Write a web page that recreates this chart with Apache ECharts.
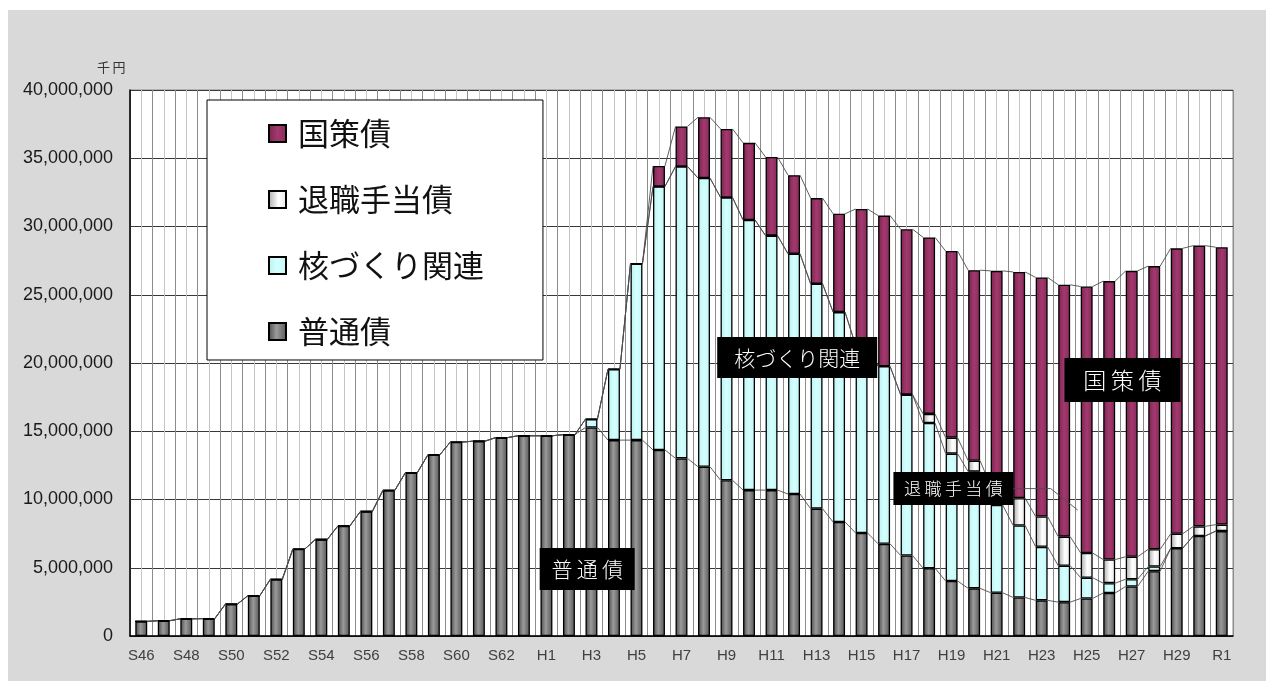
<!DOCTYPE html>
<html>
<head>
<meta charset="utf-8">
<script src="https://cdn.jsdelivr.net/npm/echarts@6/dist/echarts.min.js"></script>
<style>
html,body{margin:0;padding:0;background:#fff;width:1266px;height:681px;overflow:hidden;}
#c{position:absolute;left:8px;top:10px;width:1258px;height:671px;background:#d9d9d9;}
</style>
</head>
<body>
<div id="c"></div>
<script>
// ---- data (千円) ----
const categories = ['S46','S47','S48','S49','S50','S51','S52','S53','S54','S55','S56','S57','S58','S59','S60','S61','S62','S63',
  'H1','H2','H3','H4','H5','H6','H7','H8','H9','H10','H11','H12','H13','H14','H15','H16','H17','H18','H19','H20',
  'H21','H22','H23','H24','H25','H26','H27','H28','H29','H30','R1'];

const futsu = [1070000,1120000,1260000,1270000,2330000,2950000,4150000,6370000,7070000,8060000,
  9120000,10670000,11970000,13280000,14210000,14270000,14530000,14670000,14670000,14750000,
  15280000,14350000,14350000,13630000,13010000,12400000,11410000,10690000,10690000,10400000,
  9330000,8350000,7550000,6750000,5900000,4960000,4030000,3490000,3170000,2820000,
  2610000,2480000,2750000,3150000,3630000,4750000,6430000,7330000,7680000];

const kaku = [0,0,0,0,0,0,0,0,0,0,
  0,0,0,0,0,0,0,0,0,0,
  610000,5200000,12930000,19300000,21390000,21150000,20720000,19790000,18640000,17600000,
  16480000,15380000,13750000,13010000,11780000,10640000,9330000,8550000,6430000,5280000,
  3920000,2670000,1520000,720000,530000,340000,0,0,0];

const taishoku = [0,0,0,0,0,0,0,0,0,0,
  0,0,0,0,0,0,0,0,0,0,
  0,0,0,0,0,0,0,0,0,0,
  0,0,0,0,0,670000,1170000,800000,1400000,2000000,
  2220000,2130000,1810000,1730000,1650000,1260000,1060000,700000,480000];

const kokusaku = [0,0,0,0,0,0,0,0,0,0,
  0,0,0,0,0,0,0,0,0,0,
  0,0,0,1500000,2930000,4450000,5020000,5650000,5760000,5760000,
  6270000,7200000,9980000,11040000,12120000,12930000,13670000,13960000,15750000,16570000,
  17520000,18450000,19520000,20400000,20940000,20750000,20910000,20570000,20320000];

const seriesNames = ['普通債','核づくり関連','退職手当債','国策債'];
const legendOrder = ['国策債','退職手当債','核づくり関連','普通債'];
const yMax = 40000000, yStep = 5000000;

// annotation labels: [text, category position, value]
const notes = [
  ['普\u2009通\u2009債', 19.81, 4910000],
  ['核づくり関連', 29.14, 20400000],
  ['退\u2009職\u2009手\u2009当\u2009債', 36.08, 10800000],
  ['国\u2009策\u2009債', 43.59, 18750000]
];
const noteSizes = [[95,42,21],[160,41,21],[120,33,17],[116,44,23]];
const leader = [[36.08, 10800000],[40.4, 10800000],[41.6, 9230000]];

// ---- build ----
const BAR_RATIO = 0.53;
const n = categories.length;
const stacks = [futsu, kaku, taishoku, kokusaku];
const cum = [];
let run = new Array(n).fill(0);
stacks.forEach(s => { run = run.map((v,i)=>v+s[i]); cum.push(run.slice()); });

const CJK = "'Noto Sans CJK JP','Noto Sans CJK SC',sans-serif";

function grad(stops){
  return new echarts.graphic.LinearGradient(0,0,1,0, stops.map((c,i)=>({offset:c[0],color:c[1]})));
}
const styles = [
  {color: grad([[0,'#4a4a4a'],[0.45,'#9a9a9a'],[1,'#555555']]), borderColor:'#000', borderWidth:1.3},
  {color: grad([[0,'#b8f2f2'],[0.5,'#d6ffff'],[1,'#bff6f6']]), borderColor:'#000', borderWidth:1.3},
  {color: grad([[0,'#a8a8a8'],[0.55,'#ffffff'],[1,'#e8e8e8']]), borderColor:'#000', borderWidth:1.3},
  {color: grad([[0,'#7a2450'],[0.5,'#a3396e'],[1,'#862a5a']]), borderColor:'#000', borderWidth:1.3}
];

const chart = echarts.init(document.getElementById('c'));
const barSeries = stacks.map((s,k)=>({
  name: seriesNames[k], type:'bar', stack:'total', data:s,
  barWidth: (BAR_RATIO*100)+'%', itemStyle: styles[k], z:3,
  emphasis:{disabled:true}
}));

const lineSeries = {
  type:'custom', name:'lines', xAxisIndex:0, yAxisIndex:0, z:4, silent:true,
  data: categories.slice(0, n-1).map((c,i)=>[i, 0]),
  renderItem: function(params, api){
    const i = api.value(0);
    const half = api.size([1,0])[0]*BAR_RATIO/2;
    const children = cum.map(c => {
      const p1 = api.coord([i, c[i]]);
      const p2 = api.coord([i+1, c[i+1]]);
      return {type:'line', shape:{x1:p1[0]+half, y1:p1[1], x2:p2[0]-half, y2:p2[1]},
        style:{stroke:'#4d4d4d', lineWidth:0.9}};
    });
    return {type:'group', children};
  }
};

chart.setOption({
  animation:false,
  grid:{left:122, top:80, right:33, bottom:45, show:true, backgroundColor:'#fff', borderColor:'#8a8a8a', borderWidth:1},
  legend:{
    data: legendOrder, orient:'vertical', left:199, top:90,
    backgroundColor:'#fff', borderColor:'#000', borderWidth:1,
    padding:[18,59,13,61], itemGap:35, itemWidth:17, itemHeight:17, icon:'rect',
    formatter: name => ' ' + name,
    textStyle:{fontSize:31, fontFamily:CJK, fontWeight:400, color:'#111'},
    selectedMode:false
  },
  xAxis:[
    {type:'category', data:categories, boundaryGap:true,
     axisLine:{lineStyle:{color:'#000', width:1.5}}, axisTick:{show:false},
     axisLabel:{interval:1, margin:12, fontSize:15, color:'#404040', fontFamily:"'Liberation Sans Narrow','Liberation Sans',sans-serif"},
     splitLine:{show:false}},
    {type:'value', min:-0.5, max:n-0.5, interval:0.5, show:true,
     axisLine:{show:false}, axisTick:{show:false}, axisLabel:{show:false},
     splitLine:{show:true, lineStyle:{color:['#8c8c8c','#c6c6c6'], width:1}}}
  ],
  yAxis:{type:'value', min:0, max:yMax, interval:yStep,
    axisLine:{show:true, onZero:false, lineStyle:{color:'#000', width:1.5}}, axisTick:{show:false},
    axisLabel:{margin:17, fontSize:18, color:'#1a1a1a', fontFamily:"'Liberation Sans',Arial,sans-serif",
      formatter: v => v.toLocaleString('en-US')},
    splitLine:{show:true, lineStyle:{color:'#3a3a3a', width:1}}},
  series:[...barSeries, lineSeries]
});

// annotations placed via the chart's own coordinate conversion
const g = [];
g.push({type:'text', left:89, top:51, style:{text:'千\u2009円', font:"13px 'Noto Sans CJK JP'", fill:'#333'}, z:10});
notes.forEach((nt,k)=>{
  const p = chart.convertToPixel({xAxisIndex:1, yAxisIndex:0}, [nt[1], nt[2]]);
  const [w,h,fs] = noteSizes[k];
  g.push({type:'rect', shape:{x:p[0]-w/2, y:p[1]-h/2, width:w, height:h}, style:{fill:'#000'}, z:20});
  g.push({type:'text', x:p[0], y:p[1], style:{text:nt[0], fill:'#fff', font:`300 ${fs}px ${CJK}`, align:'center', verticalAlign:'middle'}, z:21});
});
const lp = leader.map(d => chart.convertToPixel({xAxisIndex:1, yAxisIndex:0}, d));
g.push({type:'polyline', shape:{points:lp}, style:{stroke:'#4d4d4d', lineWidth:0.9, fill:null}, z:19});
chart.setOption({graphic:g});
</script>
</body>
</html>
